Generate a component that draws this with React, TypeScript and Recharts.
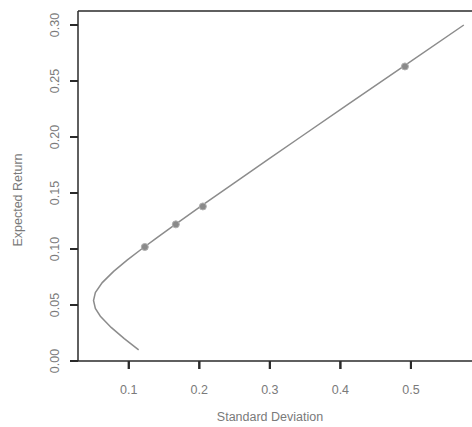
import React from 'react';
import {
  ScatterChart,
  Scatter,
  XAxis,
  YAxis,
  ReferenceLine,
} from 'recharts';

// efficient frontier (sd, expected return)
const frontierSd = [
  0.114, 0.0936, 0.075, 0.0597, 0.0526, 0.05, 0.0526, 0.0624, 0.0785, 0.0976,
  0.1182, 0.1396, 0.1616, 0.2064, 0.2518, 0.2976, 0.3436, 0.4128, 0.4822, 0.575,
];
const frontierRet = [
  0.01, 0.02, 0.03, 0.04, 0.047, 0.054, 0.061, 0.07, 0.08, 0.09,
  0.1, 0.11, 0.12, 0.14, 0.16, 0.18, 0.2, 0.23, 0.26, 0.3,
];

// highlighted portfolios
const pointSd = [0.1227, 0.1667, 0.205, 0.4915];
const pointRet = [0.1018, 0.122, 0.138, 0.263];

const xTicks = [0.1, 0.2, 0.3, 0.4, 0.5];
const yTicks = [0, 0.05, 0.1, 0.15, 0.2, 0.25, 0.3];

const frontier = frontierSd.map((sd, i) => ({ sd, ret: frontierRet[i] }));
const points = pointSd.map((sd, i) => ({ sd, ret: pointRet[i] }));

const FONT = '"Liberation Sans", Arial, sans-serif';
const AXIS = '#2a2a2a';
const TEXT = '#7a7a7a';
const LINE = '#8c8c8c';

const LEFT = 78; // plot left edge
const BOTTOM = 361; // plot bottom edge

const YTick = (props: any) => {
  const { y, payload } = props;
  return (
    <g>
      <line x1={LEFT - 8} y1={y} x2={LEFT} y2={y} stroke={AXIS} strokeWidth={2} />
      <text
        x={LEFT - 19}
        y={y}
        transform={`rotate(-90, ${LEFT - 19}, ${y})`}
        textAnchor="middle"
        fill={TEXT}
        fontSize={12.5}
        fontFamily={FONT}
      >
        {payload.value.toFixed(2)}
      </text>
    </g>
  );
};

const XTick = (props: any) => {
  const { x, payload } = props;
  return (
    <g>
      <line x1={x} y1={BOTTOM} x2={x} y2={BOTTOM + 8} stroke={AXIS} strokeWidth={2} />
      <text
        x={x}
        y={BOTTOM + 33}
        textAnchor="middle"
        fill={TEXT}
        fontSize={12.5}
        fontFamily={FONT}
      >
        {payload.value.toFixed(1)}
      </text>
    </g>
  );
};

const Dot = (props: any) => {
  const { cx, cy } = props;
  return <circle cx={cx} cy={cy} r={3.5} fill="#8a8a8a" stroke="#b0b0b0" strokeWidth={1} />;
};

export default function App() {
  return (
    <div style={{ position: 'absolute', left: 0, top: 0, width: 472, height: 427 }}>
      <ScatterChart
        width={472}
        height={427}
        margin={{ top: 11, right: 0, left: 0, bottom: 0 }}
      >
        <XAxis
          type="number"
          dataKey="sd"
          domain={[0.028, 0.5866]}
          ticks={xTicks}
          height={66}
          axisLine={{ stroke: AXIS, strokeWidth: 1.5 }}
          tickLine={{ stroke: AXIS, strokeWidth: 2 }}
          tickSize={8}
          tick={<XTick />}
        />
        <YAxis
          type="number"
          dataKey="ret"
          domain={[0, 0.3125]}
          ticks={yTicks}
          width={78}
          axisLine={{ stroke: AXIS, strokeWidth: 1.5 }}
          tickLine={{ stroke: AXIS, strokeWidth: 2 }}
          tickSize={8}
          tick={<YTick />}
        />
        <ReferenceLine y={0.3125} stroke={AXIS} strokeWidth={1.5} />
        <Scatter
          data={frontier}
          line={{ stroke: LINE, strokeWidth: 1.5 }}
          shape={() => null}
          isAnimationActive={false}
        />
        <Scatter data={points} shape={<Dot />} isAnimationActive={false} />
      </ScatterChart>
      <div
        style={{
          position: 'absolute',
          left: 270,
          top: 410,
          transform: 'translateX(-50%)',
          fontFamily: FONT,
          fontSize: 12.5,
          color: TEXT,
          whiteSpace: 'nowrap',
        }}
      >
        Standard Deviation
      </div>
      <div
        style={{
          position: 'absolute',
          left: 18,
          top: 200,
          transform: 'translate(-50%, -50%) rotate(-90deg)',
          fontFamily: FONT,
          fontSize: 12.5,
          color: TEXT,
          whiteSpace: 'nowrap',
        }}
      >
        Expected Return
      </div>
    </div>
  );
}
